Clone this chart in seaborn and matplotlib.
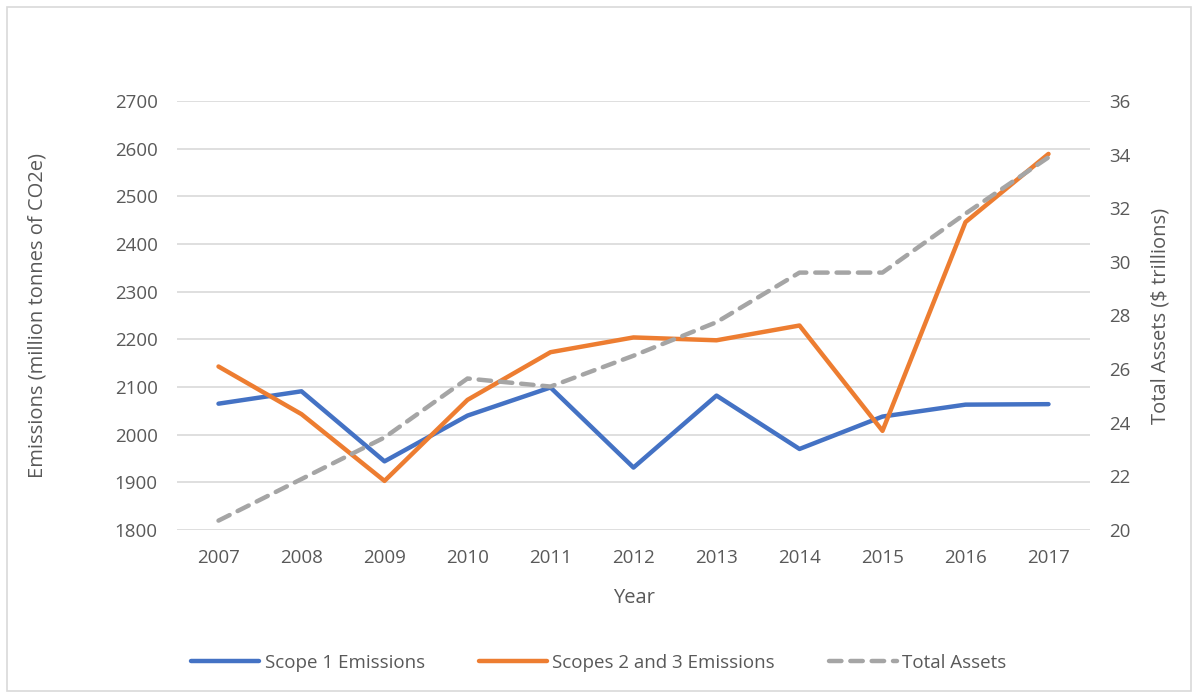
import numpy as np
import pandas as pd
import matplotlib
matplotlib.use("Agg")
import matplotlib.pyplot as plt
import seaborn as sns
from matplotlib.patches import Rectangle
from matplotlib.lines import Line2D

# data
years = [2007, 2008, 2009, 2010, 2011, 2012, 2013, 2014, 2015, 2016, 2017]
scope1 = [2065, 2091, 1944, 2040, 2099, 1931, 2082, 1970, 2038, 2063, 2064]
scope23 = [2143, 2043, 1903, 2073, 2173, 2204, 2198, 2229, 2008, 2446, 2589]
assets = [20.35, 21.9, 23.45, 25.65, 25.35, 26.5, 27.75, 29.6, 29.6, 31.8, 33.9]

df = pd.DataFrame({"Year": years, "Scope 1 Emissions": scope1,
                   "Scopes 2 and 3 Emissions": scope23, "Total Assets": assets})

sns.set_style("white")
plt.rcParams["font.family"] = ["Open Sans", "DejaVu Sans"]
txt = "#595959"
grid_c = "#d9d9d9"
blue, orange, grey = "#4472c4", "#ed7d31", "#a5a5a5"
dash = (0, (2.8, 2.0))

fig = plt.figure(figsize=(11.98, 6.98), dpi=100)
ax = fig.add_axes([177 / 1198, 1 - 530 / 698, (1090 - 177) / 1198, (530 - 101) / 698])
ax2 = ax.twinx()

sns.lineplot(data=df, x="Year", y="Scope 1 Emissions", ax=ax, color=blue, lw=3.2,
             solid_capstyle="round")
sns.lineplot(data=df, x="Year", y="Scopes 2 and 3 Emissions", ax=ax, color=orange, lw=3.2,
             solid_capstyle="round")
sns.lineplot(data=df, x="Year", y="Total Assets", ax=ax2, color=grey, lw=3.2,
             linestyle=dash, dash_capstyle="round")

ax.set_xlim(2006.5, 2017.5)
ax.set_ylim(1800, 2700)
ax.set_yticks(np.arange(1800, 2701, 100))
ax2.set_ylim(20, 36)
ax2.set_yticks(np.arange(20, 37, 2))
ax.set_xticks(years)

ax.grid(axis="y", color=grid_c, lw=1.2)
ax.set_axisbelow(True)
for a in (ax, ax2):
    for s in a.spines.values():
        s.set_visible(False)
    a.tick_params(length=0, labelsize=13.5, colors=txt)
ax.tick_params(axis="x", pad=14)
ax.tick_params(axis="y", pad=14)
ax2.tick_params(axis="y", pad=14)

ax.set_xlabel("Year", fontsize=14.5, color=txt, labelpad=15)
ax.set_ylabel("Emissions (million tonnes of CO2e)", fontsize=14.5, color=txt, labelpad=48)
ax2.set_ylabel("Total Assets ($ trillions)", fontsize=14.5, color=txt, labelpad=14)

handles = [Line2D([], [], color=blue, lw=3.2, solid_capstyle="round"),
           Line2D([], [], color=orange, lw=3.2, solid_capstyle="round"),
           Line2D([], [], color=grey, lw=3.2, linestyle=dash, dash_capstyle="round")]
fig.legend(handles, ["Scope 1 Emissions", "Scopes 2 and 3 Emissions", "Total Assets"],
           loc="center", bbox_to_anchor=(0.5, 1 - 663 / 698), ncol=3, frameon=False,
           fontsize=13.5, labelcolor=txt, handlelength=3.6, handletextpad=0.3,
           columnspacing=2.9)

fig.patches.append(Rectangle((7 / 1198, 7 / 698), 1 - 14 / 1198, 1 - 14 / 698,
                             transform=fig.transFigure, fill=False,
                             edgecolor="#d9d9d9", lw=1.2))

fig.savefig("out.png", dpi=100)
